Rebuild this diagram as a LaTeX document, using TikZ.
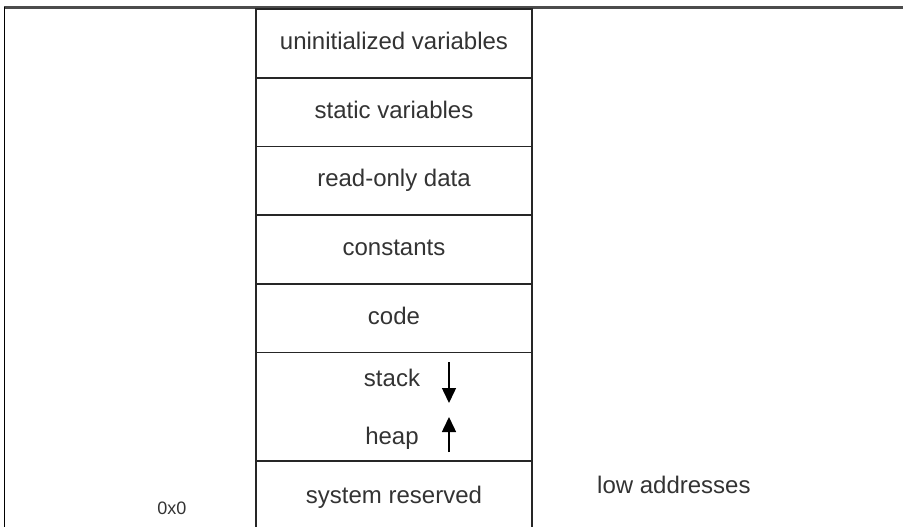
\documentclass[tikz,border=0pt]{standalone}
\usepackage{fontspec}
\setmainfont{Liberation Sans}
\usetikzlibrary{arrows.meta,positioning}

\begin{document}
\begin{tikzpicture}[x=1pt,y=-1pt,
	segment/.style={draw=black!85,line width=1.8pt,minimum width=276pt,minimum height=68.7pt,
		inner sep=0pt,outer sep=0pt,text=black!80,font=\fontsize{24}{28}\selectfont,
		text height=17pt,text depth=5pt},
	memtext/.style={inner sep=0pt,text=black!80,font=\fontsize{24}{28}\selectfont},
	growarrow/.style={line width=1.5pt,-{Triangle[width=14pt,length=15pt]}}]
\useasboundingbox (0,0) rectangle (903,527);
\draw[line width=2.5pt,black!70] (4,7.5) -- (903,7.5);
\draw[line width=1.8pt] (4.5,7) -- (4.5,527);
\node[segment] (uninit) at (394,43.4) {uninitialized variables};
\node[segment,below=0pt of uninit] (static) {static variables};
\node[segment,below=0pt of static] (rodata) {read-only data};
\node[segment,below=0pt of rodata] (const) {constants};
\node[segment,below=0pt of const] (code) {code};
\node[segment,below=0pt of code,minimum height=108.5pt] (dyn) {};
	\node[memtext,anchor=base] (stack) at (392,386) {stack};
	\node[memtext,anchor=base] (heap) at (392,444) {heap};
\coordinate (stack tail) at (449,362);
\coordinate (stack tip) at (449,403);
\draw[growarrow] (stack tail) -- (stack tip);
\coordinate (heap tail) at (449,452);
\coordinate (heap tip) at (449,417);
\draw[growarrow] (heap tail) -- (heap tip);
\node[segment,below=0pt of dyn,minimum height=72pt] (sys) {system reserved};
	\node[memtext,anchor=base,font=\fontsize{18}{22}\selectfont] (zero) at (172,514) {0x0};
	\node[memtext,anchor=base west] (low) at (597,493) {low addresses};
\end{tikzpicture}
\end{document}
